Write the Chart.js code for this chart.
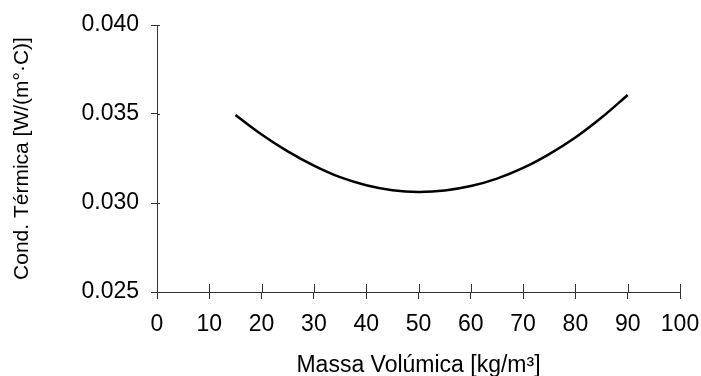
<!DOCTYPE html>
<html>
<head>
<meta charset="utf-8">
<script src="https://cdn.jsdelivr.net/npm/chart.js@4/dist/chart.umd.min.js"></script>
<style>
  html, body { margin: 0; padding: 0; background: #fff; }
  #wrap { width: 701px; height: 376px; }
</style>
</head>
<body>
<div id="wrap"><canvas id="chart" width="701" height="376"></canvas></div>
<script>
// ── Data ──
const density = [15, 20, 25, 30, 35, 40, 45, 50, 55, 60, 65, 70, 75, 80, 85, 90];
const conductivity = [0.03495, 0.03385, 0.03290, 0.03210, 0.03145, 0.03100, 0.03072, 0.03062,
                      0.03070, 0.03095, 0.03137, 0.03197, 0.03275, 0.03368, 0.03480, 0.03607];
const xTicks = [0, 10, 20, 30, 40, 50, 60, 70, 80, 90, 100];
const yTicks = [0.025, 0.030, 0.035, 0.040];

const FONT = "'Liberation Sans', Arial, sans-serif";

// inner half of the crossing tick marks
const innerTicks = {
  id: 'innerTicks',
  afterDraw(chart) {
    const { ctx, scales: { x, y } } = chart;
    ctx.save();
    ctx.strokeStyle = '#333';
    ctx.lineWidth = 1;
    ctx.beginPath();
    xTicks.forEach(v => {
      const px = Math.round(x.getPixelForValue(v)) + 0.5;
      ctx.moveTo(px, x.top);
      ctx.lineTo(px, x.top - 8);
    });
    yTicks.forEach(v => {
      const py = Math.round(y.getPixelForValue(v)) + 0.5;
      ctx.moveTo(y.right, py);
      ctx.lineTo(y.right + 3, py);
    });
    ctx.stroke();
    ctx.restore();
  }
};

new Chart(document.getElementById('chart'), {
  type: 'line',
  data: {
    datasets: [{
      data: density.map((d, i) => ({ x: d, y: conductivity[i] })),
      borderColor: '#000',
      borderWidth: 2.5,
      pointRadius: 0,
      tension: 0.4,
      fill: false,
    }]
  },
  options: {
    responsive: false,
    animation: false,
    layout: { padding: { top: 25, right: 21, left: 0, bottom: 0 } },
    plugins: { legend: { display: false }, tooltip: { enabled: false } },
    scales: {
      x: {
        type: 'linear',
        min: 0, max: 100,
        afterBuildTicks: s => { s.ticks = xTicks.map(v => ({ value: v })); },
        afterFit: s => { s.height = 84; s.paddingRight = 0; s.paddingLeft = 0; },
        border: { color: '#333', width: 1 },
        grid: { drawOnChartArea: false, drawTicks: true, tickLength: 7, color: '#333' },
        ticks: { color: '#000', font: { family: FONT, size: 23 }, padding: 12, maxRotation: 0 },
        title: { display: true, text: 'Massa Volúmica [kg/m³]', color: '#000',
                 font: { family: FONT, size: 23, lineHeight: 1 }, padding: { top: 0, bottom: -1 } }
      },
      y: {
        type: 'linear',
        min: 0.025, max: 0.040,
        afterBuildTicks: s => { s.ticks = yTicks.map(v => ({ value: v })); },
        afterFit: s => { s.width = 157; s.paddingTop = 0; s.paddingBottom = 0; },
        border: { color: '#333', width: 1 },
        grid: { drawOnChartArea: false, drawTicks: true, tickLength: 6, color: '#333' },
        ticks: { color: '#000', font: { family: FONT, size: 23 }, padding: 12,
                 callback: v => v.toFixed(3) },
        title: { display: true, text: 'Cond. Térmica [W/(m°·C)]', color: '#000',
                 font: { family: FONT, size: 21 }, padding: { bottom: 0, top: 10 } }
      }
    }
  },
  plugins: [innerTicks]
});
</script>
</body>
</html>
